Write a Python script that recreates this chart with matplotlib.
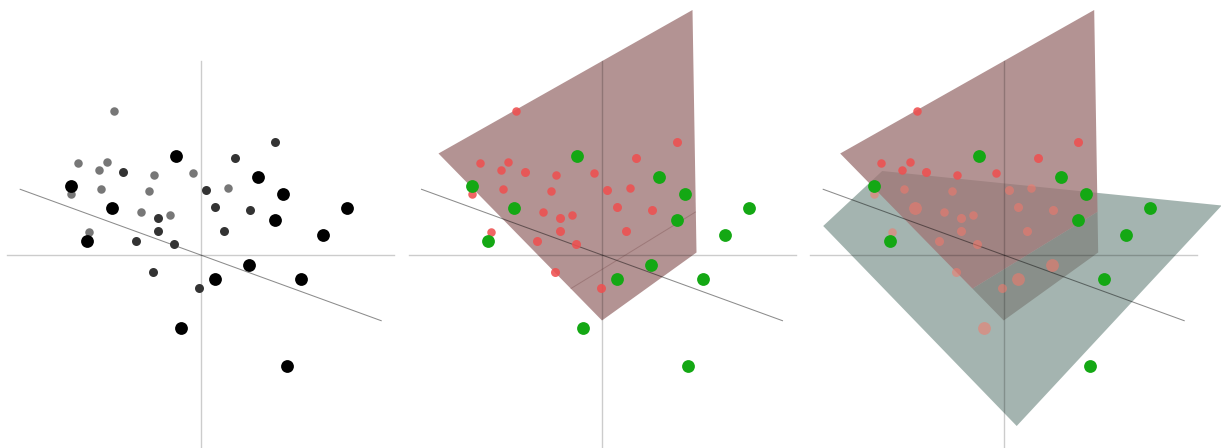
import matplotlib
matplotlib.use("Agg")
import matplotlib.pyplot as plt
from matplotlib.patches import Polygon

# projected screen positions of the points, origin where the axes cross
pt_x = [-1.73, -2.45, -1.88, -2.03, -0.93, -0.16, -2.60, -1.99, -1.03, 0.55,
        -1.19, -0.61, -2.23,
        -1.55, 0.68, 1.49, 0.10, 0.29, 0.99, -0.85, -0.85, 0.47, -1.30,
        -0.53, -0.95, -0.03,
        -2.60, -1.77, -2.28, -0.50, 1.14, 1.65, 1.49, 2.93, 2.45, 0.97,
        0.29, 2.01, -0.39, 1.72]
pt_y = [2.87, 1.83, 1.85, 1.69, 1.60, 1.63, 1.22, 1.32, 1.27, 1.33,
        0.85, 0.79, 0.45,
        1.65, 1.94, 2.26, 1.30, 0.95, 0.90, 0.73, 0.48, 0.48, 0.27,
        0.22, -0.34, -0.66,
        1.37, 0.93, 0.27, 1.97, 1.55, 1.21, 0.70, 0.93, 0.39, -0.19,
        -0.47, -0.47, -1.45, -2.21]
# depth bucket: 0 far, 1 middle, 2 near
pt_depth = [0] * 13 + [1] * 13 + [2] * 14
# class: 0 red, 1 green
pt_class = [0] * 26 + [1] * 14
# 1 where the point sits behind the second plane (last panel)
behind_b = [0, 0, 0, 0, 0, 0, 1, 1, 1, 1, 1, 1, 1,
            0, 0, 0, 1, 1, 1, 1, 1, 1, 1, 1, 1, 1,
            0, 1, 0, 0, 0, 0, 0, 0, 0, 1, 1, 0, 1, 0]

plane_a = [(-3.27, 2.03), (1.81, 4.90), (1.89, 0.05), (0.0, -1.31)]
plane_b = [(-3.61, 0.58), (-2.43, 1.68), (4.36, 0.99), (0.26, -3.42)]
# line where the two planes cut each other
cut_line = [(-0.62, -0.67), (1.87, 0.86)]

axis_half = 3.87
z_axis_end = (3.61, -1.314)

W, H = 1221, 448
scale = 50.0
cx, cy = 200.7, 255
panel_left = [0, 401.3, 803]
panel_width = [401.3, 401.3, 418]

grey_cols = ['#777777', '#333333', '#000000']
diam_px = [8.5, 9.0, 12.8]
red, green = '#ee5050', '#14a814'
red_plane, green_plane = '#9f7676', '#738d86'


def clip_half(poly, p, q, keep_left=True):
    # Sutherland-Hodgman against one line
    def side(v):
        return (q[0] - p[0]) * (v[1] - p[1]) - (q[1] - p[1]) * (v[0] - p[0])
    out = []
    n = len(poly)
    for i in range(n):
        a, b = poly[i], poly[(i + 1) % n]
        sa, sb = side(a), side(b)
        if (sa >= 0) == keep_left:
            out.append(a)
        if (sa >= 0) != (sb >= 0):
            t = sa / (sa - sb)
            out.append((a[0] + t * (b[0] - a[0]), a[1] + t * (b[1] - a[1])))
    return out


def draw_axes_lines(ax):
    ax.plot([-axis_half, axis_half], [0, 0], color='k', alpha=0.2, lw=1.0, zorder=5)
    ax.plot([0, 0], [-axis_half, axis_half], color='k', alpha=0.2, lw=1.0, zorder=5)
    ax.plot([-z_axis_end[0], z_axis_end[0]], [-z_axis_end[1], z_axis_end[1]],
            color='k', alpha=0.45, lw=0.75, zorder=5)


def size_of(d):
    return (diam_px[d] * 0.72) ** 2


fig = plt.figure(figsize=(W / 100, H / 100), dpi=100)
axes = []
for left, w in zip(panel_left, panel_width):
    ax = fig.add_axes([left / W, 0, w / W, 1])
    ax.set_xlim(-cx / scale, (w - cx) / scale)
    ax.set_ylim(-(H - cy) / scale, cy / scale)
    ax.axis('off')
    draw_axes_lines(ax)
    axes.append(ax)

# panel 1: depth shown by grey level and size
ax = axes[0]
for d in range(3):
    idx = [i for i in range(len(pt_x)) if pt_depth[i] == d]
    ax.scatter([pt_x[i] for i in idx], [pt_y[i] for i in idx], s=size_of(d),
               c=grey_cols[d], linewidths=0, zorder=7 + d)

# panel 2: one plane, classes coloured
ax = axes[1]
ax.add_patch(Polygon(plane_a, closed=True, fc=red_plane, alpha=0.79, ec='none', zorder=2))
ax.plot(*zip(*cut_line), color='#5a2a2a', alpha=0.25, lw=0.7, zorder=5)
for d in range(3):
    idx = [i for i in range(len(pt_x)) if pt_depth[i] == d]
    col = green if d == 2 else red
    ax.scatter([pt_x[i] for i in idx], [pt_y[i] for i in idx], s=size_of(d),
               c=col, alpha=1.0 if d == 2 else 0.88, linewidths=0, zorder=7 + d)

# panel 3: both planes, points behind the second plane washed out
ax = axes[2]
upper = clip_half(plane_a, cut_line[0], cut_line[1], True)
lower = clip_half(plane_a, cut_line[0], cut_line[1], False)
ax.add_patch(Polygon(lower, closed=True, fc=red_plane, alpha=0.79, ec='none', zorder=2))
ax.add_patch(Polygon(plane_b, closed=True, fc=green_plane, alpha=0.65, ec='none', zorder=3))
ax.add_patch(Polygon(upper, closed=True, fc=red_plane, alpha=0.79, ec='none', zorder=4))
for d in range(3):
    faded = [i for i in range(len(pt_x)) if pt_depth[i] == d and behind_b[i]]
    if faded:
        ax.scatter([pt_x[i] for i in faded], [pt_y[i] for i in faded], s=size_of(d),
                   c='#f57869', alpha=0.55, linewidths=0, zorder=6)
for d in range(3):
    idx = [i for i in range(len(pt_x)) if pt_depth[i] == d and not behind_b[i]]
    col = green if d == 2 else red
    ax.scatter([pt_x[i] for i in idx], [pt_y[i] for i in idx], s=size_of(d),
               c=col, alpha=1.0 if d == 2 else 0.88, linewidths=0, zorder=7 + d)

fig.savefig('out.png', dpi=100)
